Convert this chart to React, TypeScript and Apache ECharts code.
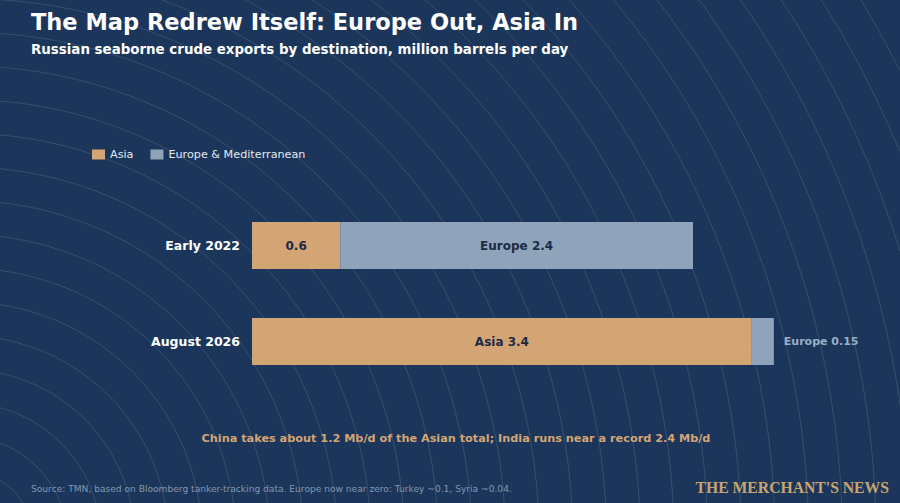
import React, { useEffect, useRef } from "react";
import * as echarts from "echarts";

const categories = ["Early 2022", "August 2026"];
const asiaValues = [0.6, 3.4];
const europeValues = [2.4, 0.15];
const asiaLabels = ["0.6", "Asia 3.4"];
const europeLabels = ["Europe 2.4", "Europe 0.15"];
const seriesNames = ["Asia", "Europe & Mediterranean"];

const BG = "#1b365a";
const ASIA = "#d4a574";
const EUROPE = "#8fa3bb";
const DARK = "#1c2b45";
const FONT = "DejaVu Sans";

export default function App() {
  const ref = useRef<HTMLDivElement>(null);
  useEffect(() => {
    document.body.style.margin = "0";
    const chart = echarts.init(ref.current!, null, { renderer: "svg" });
    const rings: any[] = [];
    for (let k = 1; k <= 33; k++) {
      rings.push({
        type: "circle",
        silent: true,
        z: -10,
        shape: { cx: -36, cy: 540, r: 36 + 33.7 * k },
        style: { fill: "none", stroke: "rgba(200,215,235,0.2)", lineWidth: 0.8 },
      });
    }
    chart.setOption({
      animation: false,
      backgroundColor: BG,
      textStyle: { fontFamily: FONT },
      legend: {
        left: 87,
        top: 144,
        icon: "rect",
        itemWidth: 13,
        itemHeight: 10,
        itemGap: 17,
        textStyle: { color: "#e3e8ef", fontSize: 11.2, fontFamily: FONT },
        data: seriesNames,
      },
      grid: { left: 252, top: 197.5, height: 192, width: 147 * 4 },
      xAxis: { type: "value", min: 0, max: 4, show: false },
      yAxis: {
        type: "category",
        inverse: true,
        data: categories,
        axisLine: { show: false },
        axisTick: { show: false },
        axisLabel: { color: "#ffffff", fontWeight: "bold", fontSize: 12.5, margin: 12, fontFamily: FONT },
      },
      series: [
        {
          name: seriesNames[0],
          type: "bar",
          stack: "total",
          barWidth: 47,
          itemStyle: { color: ASIA },
          label: {
            show: true,
            position: "inside",
            color: DARK,
            fontWeight: "bold",
            fontSize: 12,
            fontFamily: FONT,
            formatter: (p: any) => asiaLabels[p.dataIndex],
          },
          data: asiaValues,
        },
        {
          name: seriesNames[1],
          type: "bar",
          stack: "total",
          barWidth: 47,
          itemStyle: { color: EUROPE },
          label: {
            show: true,
            position: "inside",
            color: DARK,
            fontWeight: "bold",
            fontSize: 12,
            fontFamily: FONT,
            formatter: (p: any) => europeLabels[p.dataIndex],
          },
          data: europeValues.map((v) =>
            v < 0.5
              ? { value: v, label: { position: "right", distance: 10, color: "#9aaec6", fontSize: 11 } }
              : v
          ),
        },
      ],
      graphic: [
        ...rings,
        {
          type: "text",
          left: 31,
          top: 10,
          style: { text: "The Map Redrew Itself: Europe Out, Asia In", fill: "#ffffff", font: `bold 22.5px '${FONT}'` },
        },
        {
          type: "text",
          left: 31,
          top: 43,
          style: {
            text: "Russian seaborne crude exports by destination, million barrels per day",
            fill: "#ffffff",
            font: `bold 13.4px '${FONT}'`,
          },
        },
        {
          type: "text",
          x: 456,
          y: 438,
          style: {
            text: "China takes about 1.2 Mb/d of the Asian total; India runs near a record 2.4 Mb/d",
            fill: ASIA,
            font: `bold 11.25px '${FONT}'`,
            align: "center",
            verticalAlign: "middle",
          },
        },
        {
          type: "text",
          x: 31,
          y: 489,
          style: {
            text: "Source: TMN, based on Bloomberg tanker-tracking data. Europe now near zero: Turkey ~0.1, Syria ~0.04.",
            fill: "#8496b0",
            font: `9.1px '${FONT}'`,
            verticalAlign: "middle",
          },
        },
        {
          type: "text",
          x: 889,
          y: 487,
          style: {
            text: "THE MERCHANT'S NEWS",
            fill: "#c9a46e",
            font: "bold 15.7px 'Liberation Serif'",
            align: "right",
            verticalAlign: "middle",
          },
        },
      ],
    });
    return () => chart.dispose();
  }, []);
  return <div ref={ref} style={{ position: "fixed", left: 0, top: 0, width: 900, height: 503 }} />;
}
